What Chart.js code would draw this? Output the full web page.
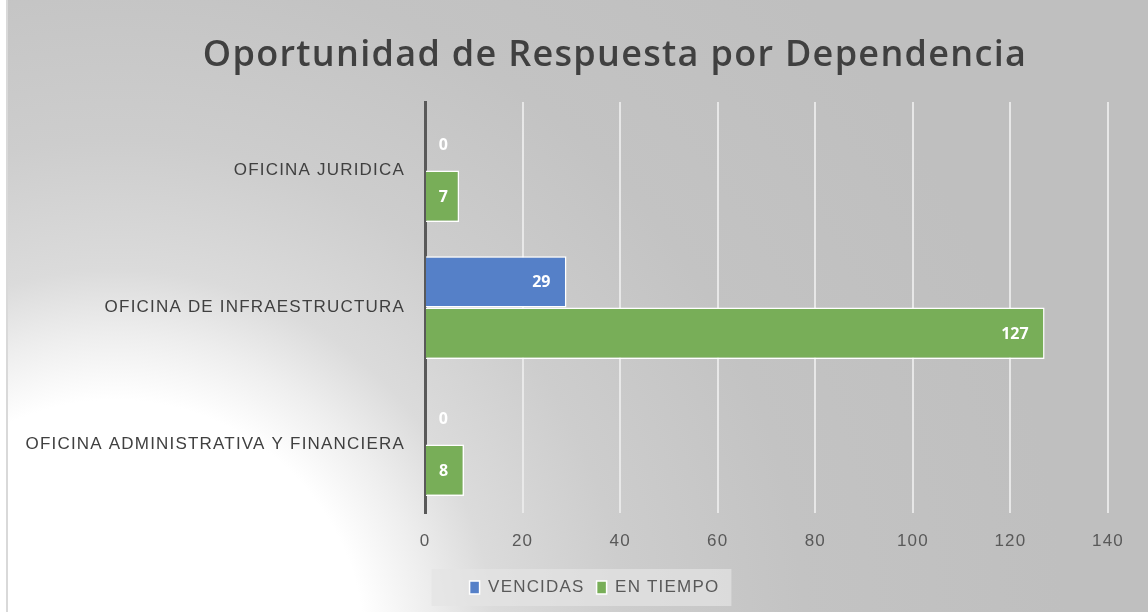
<!DOCTYPE html>
<html>
<head>
<meta charset="utf-8">
<script src="https://cdn.jsdelivr.net/npm/chart.js@4.4.1/dist/chart.umd.min.js"></script>
<style>
  html, body { margin: 0; padding: 0; background: #fff; }
  #wrap { width: 1148px; height: 612px; position: relative; }
</style>
</head>
<body>
<div id="wrap"><canvas id="respuesta" width="1148" height="612"></canvas></div>
<script>
var categories = ['OFICINA JURIDICA', 'OFICINA DE INFRAESTRUCTURA', 'OFICINA ADMINISTRATIVA Y FINANCIERA'];
var vencidas = [0, 29, 0];
var enTiempo = [7, 127, 8];
var xTicks = [0, 20, 40, 60, 80, 100, 120, 140];
var titleText = 'Oportunidad de Respuesta por Dependencia';

// espaciado de letras parecido al de Excel
var espaciado = {
    id: 'espaciado',
    beforeUpdate: function (chart) { chart.ctx.letterSpacing = '1.2px'; },
    beforeDraw: function (chart) { chart.ctx.letterSpacing = '1.2px'; },
    afterLayout: function (chart) {
        // la leyenda va un poco a la derecha, como en el original
        chart.legend.left += 38;
        chart.legend.right += 38;
    }
};

// fondo con degradado radial como el de Excel
var fondo = {
    id: 'fondo',
    beforeDraw: function (chart) {
        var c = chart.ctx;
        c.save();
        c.fillStyle = '#ffffff';
        c.fillRect(0, 0, chart.width, chart.height);
        var g = c.createRadialGradient(115, 650, 0, 115, 650, 950);
        g.addColorStop(0, '#ffffff');
        g.addColorStop(250 / 950, '#ffffff');
        g.addColorStop(315 / 950, '#eeeeee');
        g.addColorStop(380 / 950, '#dbdbdb');
        g.addColorStop(510 / 950, '#cdcdcd');
        g.addColorStop(690 / 950, '#c3c3c3');
        g.addColorStop(1, '#bfbfbf');
        c.fillStyle = g;
        c.fillRect(6, 0, chart.width - 6, chart.height);
        c.fillStyle = '#d9d9d9';
        c.fillRect(6, 0, 2, chart.height);
        // caja de la leyenda
        var boxes = chart.legend.legendHitBoxes;
        if (boxes && boxes.length) {
            var first = boxes[0], last = boxes[boxes.length - 1];
            c.fillStyle = 'rgba(228,228,228,0.7)';
            c.fillRect(first.left - 38, first.top - 10, last.left + last.width - first.left + 50, first.height + 20);
        }
        c.restore();
    }
};

// titulo
var titulo = {
    id: 'titulo',
    afterDraw: function (chart) {
        var c = chart.ctx;
        c.save();
        c.letterSpacing = '1.3px';
        c.font = '600 36px "Open Sans"';
        c.fillStyle = '#404040';
        c.textAlign = 'center';
        c.textBaseline = 'alphabetic';
        c.fillText(titleText, 615, 66);
        c.restore();
    }
};

// etiquetas de datos dentro del extremo de la barra
var etiquetas = {
    id: 'etiquetas',
    afterDatasetsDraw: function (chart) {
        var c = chart.ctx;
        var x0 = chart.scales.x.getPixelForValue(0);
        c.save();
        c.letterSpacing = '0px';
        c.font = 'bold 16px "Open Sans"';
        c.fillStyle = '#ffffff';
        c.textAlign = 'right';
        c.textBaseline = 'middle';
        chart.data.datasets.forEach(function (ds, i) {
            chart.getDatasetMeta(i).data.forEach(function (bar, j) {
                var tx = Math.max(bar.x - 16, x0 + 23);
                c.fillText(String(ds.data[j]), tx, bar.y + 1);
            });
        });
        c.restore();
    }
};

var ctx = document.getElementById('respuesta').getContext('2d');
var respuesta = new Chart(ctx, {
    type: 'bar',
    data: {
        labels: categories,
        datasets: [{
                label: 'VENCIDAS',
                data: vencidas,
                backgroundColor: '#5580c8',
                borderColor: '#ffffff',
                borderWidth: 1.5,
                categoryPercentage: 0.75,
                barPercentage: 1
            }, {
                label: 'EN TIEMPO',
                data: enTiempo,
                backgroundColor: '#78ae58',
                borderColor: '#ffffff',
                borderWidth: 1.5,
                categoryPercentage: 0.75,
                barPercentage: 1
            }]
    },
    options: {
        indexAxis: 'y',
        responsive: false,
        animation: false,
        layout: {
            padding: { top: 102, left: 5, right: 40, bottom: 6 }
        },
        scales: {
            x: {
                min: 0,
                max: 140,
                afterBuildTicks: function (scale) {
                    scale.ticks = xTicks.map(function (v) { return { value: v }; });
                },
                afterFit: function (scale) { scale.height = 54; },
                grid: { color: 'rgba(235,235,235,0.9)', lineWidth: 2, drawTicks: false },
                border: { display: false },
                ticks: { color: '#595959', font: { family: 'Liberation Sans', size: 17 }, padding: 18 }
            },
            y: {
                afterFit: function (scale) { scale.width = 420; },
                grid: { display: false },
                border: { display: true, color: '#595959', width: 3 },
                ticks: { color: '#404040', font: { family: 'Liberation Sans', size: 17 }, padding: 12 }
            }
        },
        plugins: {
            legend: {
                position: 'bottom',
                labels: {
                    color: '#595959',
                    font: { family: 'Liberation Sans', size: 17 },
                    boxWidth: 10,
                    boxHeight: 13,
                    padding: 12
                }
            },
            tooltip: { enabled: false }
        }
    },
    plugins: [espaciado, fondo, titulo, etiquetas]
});
</script>
</body>
</html>
